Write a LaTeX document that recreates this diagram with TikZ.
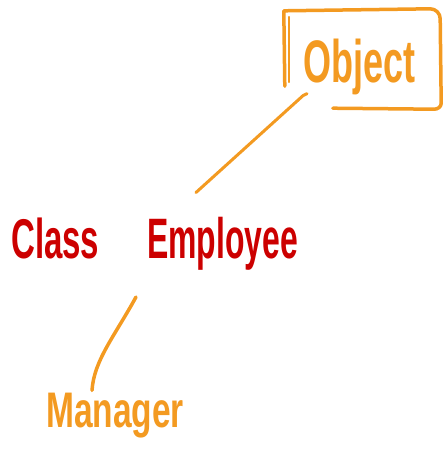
\documentclass[tikz,border=0pt]{standalone}
\usepackage{fontspec}
\setmainfont{Liberation Sans}
\usetikzlibrary{calc}
\definecolor{penorange}{HTML}{F39A21}
\definecolor{penred}{HTML}{CC0000}
\tikzset{
  ink/.style={line cap=round, line join=round},
  orangeink/.style={ink, draw=penorange, line width=3.5pt},
  word/.style={inner sep=0pt, anchor=base west},
}
\newcommand{\narrowtext}[2]{\scalebox{#1}[1]{\bfseries #2}}

\begin{document}
\begin{tikzpicture}[x=1pt,y=-1pt]
\useasboundingbox (0,0) rectangle (446,451);

% words
\node[word, text=penorange, font=\fontsize{60}{62}\selectfont] (obj) at (303,82) {\narrowtext{0.6}{Object}};
\node[word, text=penred, font=\fontsize{56}{58}\selectfont] (cls) at (11,258) {\narrowtext{0.59}{Class}};
\node[word, text=penred, font=\fontsize{57}{58}\selectfont] (emp) at (147,258) {\narrowtext{0.56}{Employee}};
\node[word, text=penorange, font=\fontsize{50}{52}\selectfont] (mgr) at (46,427) {\narrowtext{0.67}{Manager}};

% hand-drawn frame around Object, open at the lower left
\node[minimum width=156pt, minimum height=100pt, inner sep=0pt] (frame) at (362,59) {};
\draw[orangeink]
  ($(frame.south west)+(1,-23)$) -- ($(frame.north west)+(0,2)$)
  -- ($(frame.north east)+(-10,0)$)
  to[out=0,in=90] ($(frame.north east)+(0,10)$)
  -- ($(frame.south east)+(1,-6)$)
  to[out=-90,in=0] ($(frame.south east)+(-6,0)$)
  -- ($(frame.south west)+(49,-1)$);
\draw[penorange, line width=2pt, ink]
  ($(frame.south west)+(5,-27)$) -- ($(frame.north west)+(5,8)$);

% connectors
\coordinate (objfoot) at ($(obj.south west)+(0,1)$);
\coordinate (emptop) at ($(emp.north west)+(49,-24)$);
\coordinate (empfoot) at ($(emp.south west)+(-11,27)$);
\coordinate (mgrtop) at ($(mgr.north west)+(46,-2)$);
\draw[orangeink, line width=3pt] ($(objfoot)+(4,-2)$) to[out=200,in=40] (objfoot) -- (emptop);
\draw[orangeink] (empfoot) .. controls ($(empfoot)+(-22,40)$) and ($(mgrtop)+(2,-30)$) .. (mgrtop);
\end{tikzpicture}
\end{document}
